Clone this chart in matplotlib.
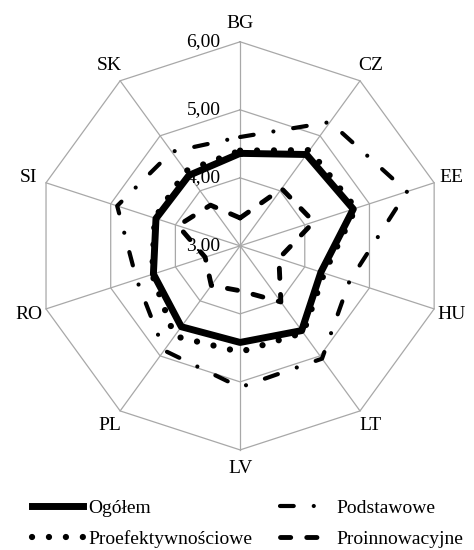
import numpy as np
import matplotlib.pyplot as plt

plt.rcParams['font.family'] = ['Liberation Serif', 'DejaVu Serif']

# kraje w kolejnosci zgodnej z ruchem wskazowek zegara, od gory
kraje = ['BG', 'CZ', 'EE', 'HU', 'LT', 'LV', 'PL', 'RO', 'SI', 'SK']

ogolem = [4.36, 4.66, 4.75, 4.25, 4.54, 4.42, 4.47, 4.34, 4.30, 4.28]
proefektywnosciowe = [4.40, 4.74, 4.79, 4.30, 4.58, 4.56, 4.64, 4.36, 4.32, 4.36]
podstawowe = [4.60, 5.25, 5.58, 4.69, 5.05, 5.08, 4.90, 4.60, 4.90, 4.71]
proinnowacyjne = [3.41, 4.04, 4.14, 3.60, 4.02, 3.66, 3.72, 3.54, 3.96, 3.74]

skala = [3, 4, 5, 6]
skala_etykiety = ['3,00', '4,00', '5,00', '6,00']

szary = '#a8a8a8'


def zamknij(v):
    return np.append(v, v[0])


theta = np.linspace(0, 2 * np.pi, len(kraje), endpoint=False)
theta_z = zamknij(theta)

fig = plt.figure(figsize=(4.74, 5.5), dpi=100)
ax = fig.add_axes([0.076, 0.182, 0.861, 0.742], projection='polar')
ax.set_theta_offset(np.pi / 2)
ax.set_theta_direction(-1)
ax.set_ylim(skala[0], skala[-1])
ax.grid(False)
ax.spines['polar'].set_visible(False)
ax.set_xticks([])
ax.set_yticks([])

# siatka w ksztalcie dziesieciokata
for r in skala[1:]:
    ax.plot(theta_z, [r] * len(theta_z), color=szary, lw=0.9, zorder=1, clip_on=False)
for t in theta:
    ax.plot([t, t], [skala[0], skala[-1]], color=szary, lw=0.9, zorder=1, clip_on=False)

# etykiety skali przy osi BG
for r, lab in zip(skala, skala_etykiety):
    ax.annotate(lab, xy=(0, r), xytext=(-14, 0), textcoords='offset points',
                ha='right', va='center', fontsize=14, zorder=2)

# nazwy krajow
for t, k in zip(theta, kraje):
    ax.text(t, 6.27, k, ha='center', va='center', fontsize=14)

l1, = ax.plot(theta_z, zamknij(ogolem), color='black', lw=5,
              solid_joinstyle='round', zorder=5, clip_on=False)
l2, = ax.plot(theta_z, zamknij(proefektywnosciowe), color='black', lw=4.5,
              linestyle=(0, (0.01, 2.7)), dash_capstyle='round', zorder=4, clip_on=False)
l3, = ax.plot(theta_z, zamknij(podstawowe), color='black', lw=3,
              linestyle=(0, (3.3, 4.8, 0.01, 4.8)), dash_capstyle='round', zorder=4, clip_on=False)
l4, = ax.plot(theta_z, zamknij(proinnowacyjne), color='black', lw=3.5,
              linestyle=(0, (2.1, 3.3)), dash_capstyle='round', zorder=4, clip_on=False)

fig.legend([l1, l2, l3, l4],
           ['Ogółem', 'Proefektywnościowe', 'Podstawowe', 'Proinnowacyjne'],
           ncol=2, loc='lower left', bbox_to_anchor=(0.068, 0.004),
           frameon=False, fontsize=14, handlelength=2.6, handletextpad=0.3,
           columnspacing=1.4, labelspacing=0.65, borderpad=0, borderaxespad=0)

fig.savefig('out.png', dpi=100)
